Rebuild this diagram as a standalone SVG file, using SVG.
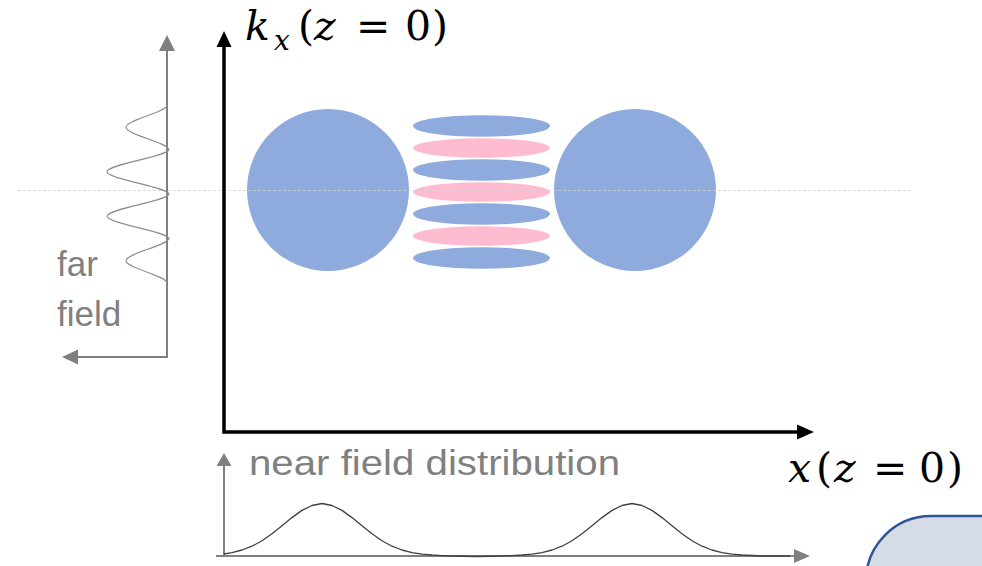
<svg xmlns="http://www.w3.org/2000/svg" width="982" height="566" viewBox="0 0 982 566">
<style>
.blue{fill:#8FAADC}
.pink{fill:#FFBCD1}
.gax{stroke:#808080;stroke-width:2;fill:none}
.bax{stroke:#000;stroke-width:3.5;fill:none}
.curve{fill:none;stroke-linejoin:round}
.lbl{font-family:"Liberation Sans",Arial,sans-serif;font-size:35px;fill:#808080}
.math{font-family:"DejaVu Serif","Liberation Serif",serif;font-size:41px;fill:#000}
</style>
<rect width="982" height="566" fill="#fff"/>
<g id="shapes">
<circle class="blue" cx="328" cy="190" r="81"/>
<circle class="blue" cx="635" cy="190" r="81"/>
<ellipse class="blue" cx="481.5" cy="126" rx="68.5" ry="10.8"/>
<ellipse class="pink" cx="481.5" cy="148" rx="68.5" ry="9.8"/>
<ellipse class="blue" cx="481.5" cy="170" rx="68.5" ry="10.8"/>
<ellipse class="pink" cx="481.5" cy="192" rx="68.5" ry="9.8"/>
<ellipse class="blue" cx="481.5" cy="214" rx="68.5" ry="10.8"/>
<ellipse class="pink" cx="481.5" cy="236" rx="68.5" ry="9.8"/>
<ellipse class="blue" cx="481.5" cy="258" rx="68.5" ry="10.8"/>
</g>
<line x1="18" y1="190.5" x2="910" y2="190.5" stroke="#D0D0D0" stroke-width="0.8" stroke-dasharray="3 2"/>
<g id="connectors">
<polyline class="bax" points="224,44 224,432 800,432"/>
<polygon points="224,31 216.5,47 231.5,47" fill="#000"/>
<polygon points="814,432 797,424.5 797,439.5" fill="#000"/>
<polyline class="gax" points="167,48 167,357 76,357"/>
<polygon points="167,35 159,51 175,51" fill="#808080"/>
<polygon points="62,357 78,349.5 78,364.5" fill="#808080"/>
<polyline class="gax" points="224,464 224,556 216,556 796,556"/>
<polygon points="224,453 216.5,466 231.5,466" fill="#808080"/>
<polygon points="810,556 794,549 794,563" fill="#808080"/>
</g>
<g id="farfield">
<path class="curve" stroke="#8c8c8c" stroke-width="1.1" d="M167,105 C167,112.4 126,119.8 126,127.25 C126,134.7 167,142.1 169,149.5 C167,156.9 107,164.3 107,171.75 C107,179.2 167,186.6 169,194 C167,201.4 107,208.8 107,216.25 C107,223.7 167,231.1 169,238.5 C167,245.9 126,253.3 126,260.75 C126,268.2 167,275.6 167,283"/>
</g>
<g id="nearfield">
<polyline class="curve" stroke="#404040" stroke-width="1.3" points="224,554 232,552.6 242,550 252,546.2 262,540.8 272,533.8 282,525.8 292,517.6 302,510.4 312,505.5 322,503.5 332,505.5 342,510.4 352,517.6 362,525.8 372,533.8 382,540.8 392,546.2 402,550 412,552.6 422,554.1 432,555 442,555.6 452,556 477,556.5 502,556 512,555.6 522,555 532,554.1 542,552.6 552,550 562,546.2 572,540.8 582,533.8 592,525.8 602,517.6 612,510.4 622,505.5 632,503.5 642,505.5 652,510.4 662,517.6 672,525.8 682,533.8 692,540.8 702,546.2 712,550 722,552.6 732,554.1 742,555 752,555.5 762,556 790,556"/>
</g>
<g id="box">
<rect x="866" y="516" width="200" height="150" rx="65" ry="65" fill="#D6DCE5" stroke="#2F5597" stroke-width="2.5"/>
</g>
<g id="labels">
<text class="lbl" x="57" y="276">far</text>
<text class="lbl" x="57" y="326">field</text>
<text class="lbl" x="249" y="475" textLength="371" lengthAdjust="spacingAndGlyphs">near field distribution</text>
<text class="math"><tspan x="245" y="40" font-style="italic">k</tspan><tspan x="274" y="50" font-size="28" font-style="italic">x</tspan><tspan x="298" y="40">(</tspan><tspan x="314" y="40" font-style="italic">z</tspan><tspan x="356" y="40">=</tspan><tspan x="405" y="40">0</tspan><tspan x="432" y="40">)</tspan></text>
<text class="math"><tspan x="788" y="482" font-style="italic">x</tspan><tspan x="816" y="482">(</tspan><tspan x="834" y="482" font-style="italic">z</tspan><tspan x="873" y="482">=</tspan><tspan x="919" y="482">0</tspan><tspan x="947" y="482">)</tspan></text>
</g>
</svg>
